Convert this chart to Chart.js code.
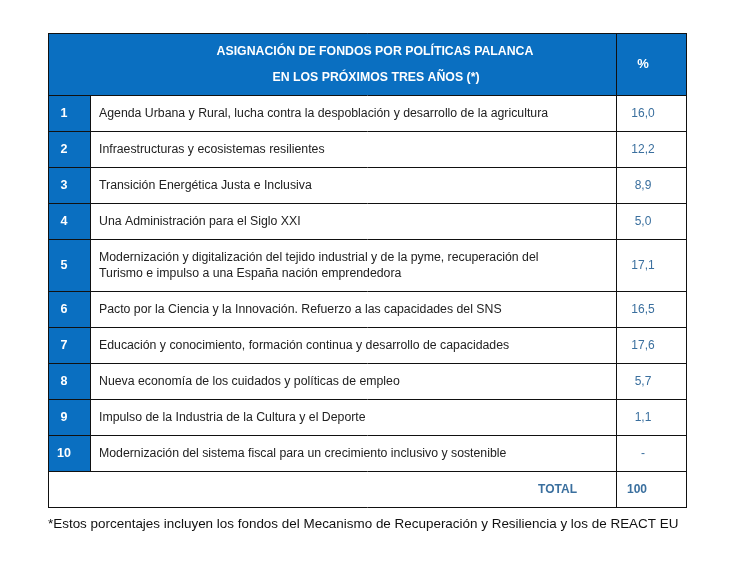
<!DOCTYPE html>
<html>
<head>
<meta charset="utf-8">
<script src="https://cdn.jsdelivr.net/npm/chart.js@4.4.0/dist/chart.umd.min.js"></script>
<style>
  body { margin: 0; background: #fff; }
  canvas { display: block; }
</style>
</head>
<body>
<canvas id="myChart" width="735" height="561"></canvas>
<script>
// datos de la tabla
var headerLines = ["ASIGNACIÓN DE FONDOS POR POLÍTICAS PALANCA", "EN LOS PRÓXIMOS TRES AÑOS (*)"];
var numbers = ["1", "2", "3", "4", "5", "6", "7", "8", "9", "10"];
var policies = [
  "Agenda Urbana y Rural, lucha contra la despoblación y desarrollo de la agricultura",
  "Infraestructuras y ecosistemas resilientes",
  "Transición Energética Justa e Inclusiva",
  "Una Administración para el Siglo XXI",
  "Modernización y digitalización del tejido industrial y de la pyme, recuperación del\nTurismo e impulso a una España nación emprendedora",
  "Pacto por la Ciencia y la Innovación. Refuerzo a las capacidades del SNS",
  "Educación y conocimiento, formación continua y desarrollo de capacidades",
  "Nueva economía de los cuidados y políticas de empleo",
  "Impulso de la Industria de la Cultura y el Deporte",
  "Modernización del sistema fiscal para un crecimiento inclusivo y sostenible"
];
var percents = [16.0, 12.2, 8.9, 5.0, 17.1, 16.5, 17.6, 5.7, 1.1, null];
var totalLabel = "TOTAL";
var totalValue = 100;
var footnote = "*Estos porcentajes incluyen los fondos del Mecanismo de Recuperación y Resiliencia y los de REACT EU";

var BLUE = "#0a6fc1";
var VALUE_BLUE = "#3a6f9e";
var FONT = "'Liberation Sans', Arial, sans-serif";

// layout (en unidades de las escalas)
var colEdges = [0, 42, 568, 638];
var headerH = 62, rowH = 36, extraLine = 16;

function rowHeight(text) {
  return rowH + extraLine * (text.split("\n").length - 1);
}
var tableH = headerH + policies.reduce(function (s, t) { return s + rowHeight(t); }, 0) + rowH;

function fmt(v) {
  return v === null ? "-" : v.toFixed(1).replace(".", ",");
}

var tablePlugin = {
  id: "tablePlugin",
  afterDraw: function (chart) {
    var ctx = chart.ctx;
    var x = chart.scales.x, y = chart.scales.y;
    var px = function (v) { return Math.round(x.getPixelForValue(v)); };
    var py = function (v) { return Math.round(y.getPixelForValue(v)); };

    var x0 = px(colEdges[0]), x1 = px(colEdges[1]), x2 = px(colEdges[2]), x3 = px(colEdges[3]);

    // row boundaries
    var tops = [0, headerH];
    policies.forEach(function (t) { tops.push(tops[tops.length - 1] + rowHeight(t)); });
    tops.push(tops[tops.length - 1] + rowH);
    var lastRow = tops.length - 2;

    ctx.save();
    // header background
    ctx.fillStyle = BLUE;
    ctx.fillRect(x0, py(0), x3 - x0, py(headerH) - py(0));
    // number column background
    ctx.fillRect(x0, py(headerH), x1 - x0, py(tops[lastRow]) - py(headerH));

    // grid lines
    ctx.strokeStyle = "#111";
    ctx.lineWidth = 1;
    ctx.beginPath();
    tops.forEach(function (t) {
      var yy = py(t) + 0.5;
      ctx.moveTo(x0, yy); ctx.lineTo(x3 + 1, yy);
    });
    [x0, x3].forEach(function (xx) {
      ctx.moveTo(xx + 0.5, py(0)); ctx.lineTo(xx + 0.5, py(tableH) + 1);
    });
    ctx.moveTo(x2 + 0.5, py(0)); ctx.lineTo(x2 + 0.5, py(tableH) + 1);
    ctx.moveTo(x1 + 0.5, py(headerH)); ctx.lineTo(x1 + 0.5, py(tops[lastRow]));
    ctx.stroke();

    ctx.textBaseline = "middle";
    // header text
    ctx.fillStyle = "#ffffff";
    ctx.font = "bold 12.3px " + FONT;
    ctx.textAlign = "center";
    var hc = (py(0) + py(headerH)) / 2;
    ctx.fillText(headerLines[0], 375, hc - 12);
    ctx.fillText(headerLines[1], 376, hc + 14);
    ctx.font = "bold 13px " + FONT;
    ctx.fillText("%", 643, hc);

    // body rows
    for (var i = 0; i < policies.length; i++) {
      var cy = (py(tops[i + 1]) + py(tops[i + 2])) / 2 + 1;
      ctx.fillStyle = "#ffffff";
      ctx.font = "bold 12.5px " + FONT;
      ctx.textAlign = "center";
      ctx.fillText(numbers[i], 64, cy);

      var lines = policies[i].split("\n");
      ctx.fillStyle = "#222";
      ctx.font = "12.3px " + FONT;
      ctx.textAlign = "left";
      lines.forEach(function (ln, k) {
        ctx.fillText(ln, x1 + 9, cy + (k - (lines.length - 1) / 2) * 16);
      });

      ctx.fillStyle = VALUE_BLUE;
      ctx.textAlign = "center";
      ctx.font = "12px " + FONT;
      ctx.fillText(fmt(percents[i]), 643, cy);
    }

    // total row
    var ty = (py(tops[lastRow]) + py(tableH)) / 2 + 1;
    ctx.fillStyle = VALUE_BLUE;
    ctx.font = "bold 12px " + FONT;
    ctx.textAlign = "right";
    ctx.fillText(totalLabel, 577, ty);
    ctx.textAlign = "left";
    ctx.fillText(String(totalValue), 627, ty);

    // footnote
    ctx.fillStyle = "#111";
    ctx.font = "13.45px " + FONT;
    ctx.textAlign = "left";
    ctx.fillText(footnote, 48, py(tableH) + 17);
    ctx.restore();
  }
};

var chart = new Chart(document.getElementById("myChart"), {
  type: "scatter",
  data: { datasets: [{ data: [] }] },
  options: {
    responsive: false,
    animation: false,
    events: [],
    layout: { padding: { left: 48, top: 33, right: 49, bottom: 54 } },
    plugins: { legend: { display: false }, tooltip: { enabled: false } },
    scales: {
      x: { type: "linear", min: 0, max: colEdges[3], display: false },
      y: { type: "linear", min: 0, max: tableH, reverse: true, display: false }
    }
  },
  plugins: [tablePlugin]
});
</script>
</body>
</html>
